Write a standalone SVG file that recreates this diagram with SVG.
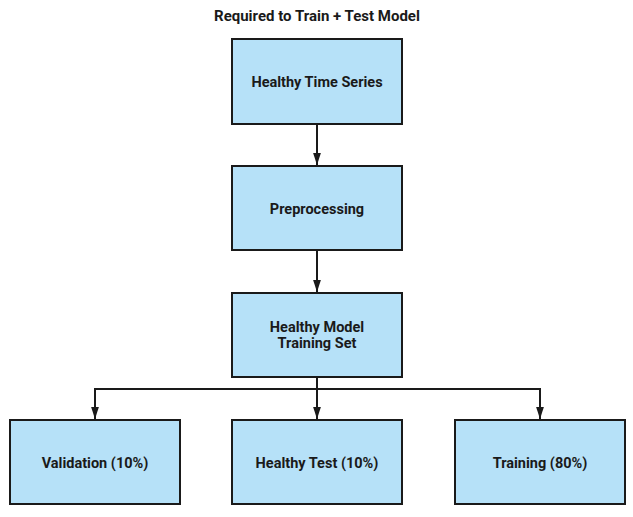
<svg xmlns="http://www.w3.org/2000/svg" width="633" height="517" viewBox="0 0 633 517">
<style>
.box{fill:#b6e1f8;stroke:#1a1a1a;stroke-width:2}
.lbl{font-family:Roboto,"Liberation Sans",sans-serif;font-weight:bold;font-size:14.5px;fill:#1a1a1a;text-anchor:middle}
.ttl{font-size:15px}
.edge{fill:none;stroke:#1a1a1a;stroke-width:2}
</style>
<defs>
<marker id="ah" markerUnits="userSpaceOnUse" markerWidth="12" markerHeight="18" refX="17" refY="5.5" orient="auto" viewBox="0 0 17 11">
<path d="M0,0 L17,5.5 L0,11 Z" fill="#1a1a1a"/>
</marker>
</defs>
<rect width="633" height="517" fill="#ffffff"/>
<text class="lbl ttl" x="317" y="21">Required to Train + Test Model</text>
<g id="connectors">
<path class="edge" d="M317,124 L317,165" marker-end="url(#ah)"/>
<path class="edge" d="M317,250 L317,292" marker-end="url(#ah)"/>
<path class="edge" d="M317,377 L317,419" marker-end="url(#ah)"/>
<path class="edge" d="M95,389 L540,389"/>
<path class="edge" d="M95,388 L95,419" marker-end="url(#ah)"/>
<path class="edge" d="M540,388 L540,419" marker-end="url(#ah)"/>
</g>
<g id="n1"><rect class="box" x="232" y="39" width="170" height="85"/><text class="lbl" x="317" y="87">Healthy Time Series</text></g>
<g id="n2"><rect class="box" x="232" y="166" width="170" height="84"/><text class="lbl" x="317" y="214">Preprocessing</text></g>
<g id="n3"><rect class="box" x="232" y="293" width="170" height="84"/><text class="lbl" x="317" y="332">Healthy Model</text><text class="lbl" x="317" y="348">Training Set</text></g>
<g id="n4"><rect class="box" x="10" y="420" width="170" height="84"/><text class="lbl" x="95" y="468">Validation (10%)</text></g>
<g id="n5"><rect class="box" x="232" y="420" width="170" height="84"/><text class="lbl" x="317" y="468">Healthy Test (10%)</text></g>
<g id="n6"><rect class="box" x="455" y="420" width="170" height="84"/><text class="lbl" x="540" y="468">Training (80%)</text></g>
</svg>
